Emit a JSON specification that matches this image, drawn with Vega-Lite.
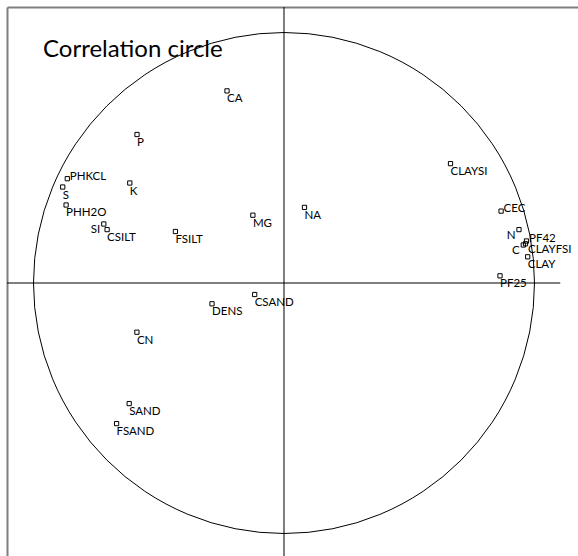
{
  "$schema": "https://vega.github.io/schema/vega-lite/v6.json",
  "autosize": "none",
  "padding": {"left": 7, "top": 7, "right": 0, "bottom": 0},
  "width": 571,
  "height": 549,
  "background": "white",
  "config": {"view": {"stroke": null}},
  "title": {
    "text": "Correlation circle",
    "anchor": "start",
    "frame": "group",
    "font": "Lato",
    "fontSize": 24,
    "fontWeight": "normal",
    "color": "black",
    "baseline": "alphabetic",
    "offset": 0,
    "dx": 36,
    "dy": 74
  },
  "data": {
    "values": [
      {"var": "CA", "x": -0.2275, "y": 0.7669, "pos": "br"},
      {"var": "P", "x": -0.5868, "y": 0.5928, "pos": "br"},
      {"var": "PHKCL", "x": -0.8651, "y": 0.4164, "pos": "r"},
      {"var": "S", "x": -0.8834, "y": 0.3832, "pos": "br"},
      {"var": "K", "x": -0.6156, "y": 0.3992, "pos": "br"},
      {"var": "PHH2O", "x": -0.8699, "y": 0.3114, "pos": "br"},
      {"var": "SI", "x": -0.7194, "y": 0.2355, "pos": "l"},
      {"var": "CSILT", "x": -0.7062, "y": 0.2132, "pos": "br"},
      {"var": "FSILT", "x": -0.4335, "y": 0.2056, "pos": "br"},
      {"var": "MG", "x": -0.1242, "y": 0.2707, "pos": "br"},
      {"var": "NA", "x": 0.0818, "y": 0.3018, "pos": "br"},
      {"var": "CLAYSI", "x": 0.6647, "y": 0.4766, "pos": "br"},
      {"var": "CEC", "x": 0.8667, "y": 0.287, "pos": "r"},
      {"var": "N", "x": 0.9381, "y": 0.2132, "pos": "l"},
      {"var": "PF42", "x": 0.9681, "y": 0.1677, "pos": "r"},
      {"var": "C", "x": 0.9553, "y": 0.1517, "pos": "l"},
      {"var": "CLAYFSI", "x": 0.9641, "y": 0.1565, "pos": "rb"},
      {"var": "CLAY", "x": 0.9729, "y": 0.1046, "pos": "br"},
      {"var": "PF25", "x": 0.8623, "y": 0.0287, "pos": "br"},
      {"var": "CSAND", "x": -0.117, "y": -0.0459, "pos": "br"},
      {"var": "DENS", "x": -0.2874, "y": -0.083, "pos": "br"},
      {"var": "CN", "x": -0.5872, "y": -0.1964, "pos": "br"},
      {"var": "SAND", "x": -0.618, "y": -0.4814, "pos": "br"},
      {"var": "FSAND", "x": -0.6683, "y": -0.5613, "pos": "br"}
    ]
  },
  "layer": [
    {
      "mark": {"type": "point", "shape": "square", "size": 18, "filled": false, "stroke": "black", "strokeWidth": 1, "opacity": 1},
      "encoding": {
        "x": {
          "field": "x", "type": "quantitative",
          "scale": {"domain": [-1.1058, 1.1737], "nice": false, "zero": false},
          "axis": {"orient": "top", "domain": true, "domainColor": "#7f7f7f", "domainWidth": 2, "ticks": false, "labels": false, "grid": false, "title": null}
        },
        "y": {
          "field": "y", "type": "quantitative",
          "scale": {"domain": [-1.0898, 1.1018], "nice": false, "zero": false},
          "axis": {"orient": "left", "domain": true, "domainColor": "#7f7f7f", "domainWidth": 2, "ticks": false, "labels": false, "grid": false, "title": null}
        }
      }
    },
    {
      "data": {"values": [{}]},
      "mark": {"type": "point", "shape": "circle", "size": 251001, "filled": false, "stroke": "black", "strokeWidth": 1, "opacity": 1},
      "encoding": {"x": {"datum": 0, "type": "quantitative"}, "y": {"datum": 0, "type": "quantitative"}}
    },
    {
      "data": {"values": [{}]},
      "mark": {"type": "rule", "color": "black", "strokeWidth": 1},
      "encoding": {"y": {"datum": 0, "type": "quantitative"}, "x": {"datum": -1.1058, "type": "quantitative"}, "x2": {"datum": 1.103}}
    },
    {
      "data": {"values": [{}]},
      "mark": {"type": "rule", "color": "black", "strokeWidth": 1},
      "encoding": {"x": {"datum": 0, "type": "quantitative"}, "y": {"datum": 1.1018, "type": "quantitative"}, "y2": {"datum": -1.0898}}
    },
    {
      "transform": [{"filter": "datum.pos === 'br'"}],
      "mark": {"type": "text", "font": "Lato", "fontSize": 11.5, "color": "black", "align": "left", "baseline": "alphabetic", "dx": 0, "dy": 11.5},
      "encoding": {"x": {"field": "x", "type": "quantitative"}, "y": {"field": "y", "type": "quantitative"}, "text": {"field": "var"}}
    },
    {
      "transform": [{"filter": "datum.pos === 'rb'"}],
      "mark": {"type": "text", "font": "Lato", "fontSize": 11.5, "color": "black", "align": "left", "baseline": "alphabetic", "dx": 2.5, "dy": 9.5},
      "encoding": {"x": {"field": "x", "type": "quantitative"}, "y": {"field": "y", "type": "quantitative"}, "text": {"field": "var"}}
    },
    {
      "transform": [{"filter": "datum.pos === 'r'"}],
      "mark": {"type": "text", "font": "Lato", "fontSize": 11.5, "color": "black", "align": "left", "baseline": "alphabetic", "dx": 2.5, "dy": 1},
      "encoding": {"x": {"field": "x", "type": "quantitative"}, "y": {"field": "y", "type": "quantitative"}, "text": {"field": "var"}}
    },
    {
      "transform": [{"filter": "datum.pos === 'l'"}],
      "mark": {"type": "text", "font": "Lato", "fontSize": 11.5, "color": "black", "align": "right", "baseline": "alphabetic", "dx": -3.5, "dy": 9},
      "encoding": {"x": {"field": "x", "type": "quantitative"}, "y": {"field": "y", "type": "quantitative"}, "text": {"field": "var"}}
    }
  ]
}
